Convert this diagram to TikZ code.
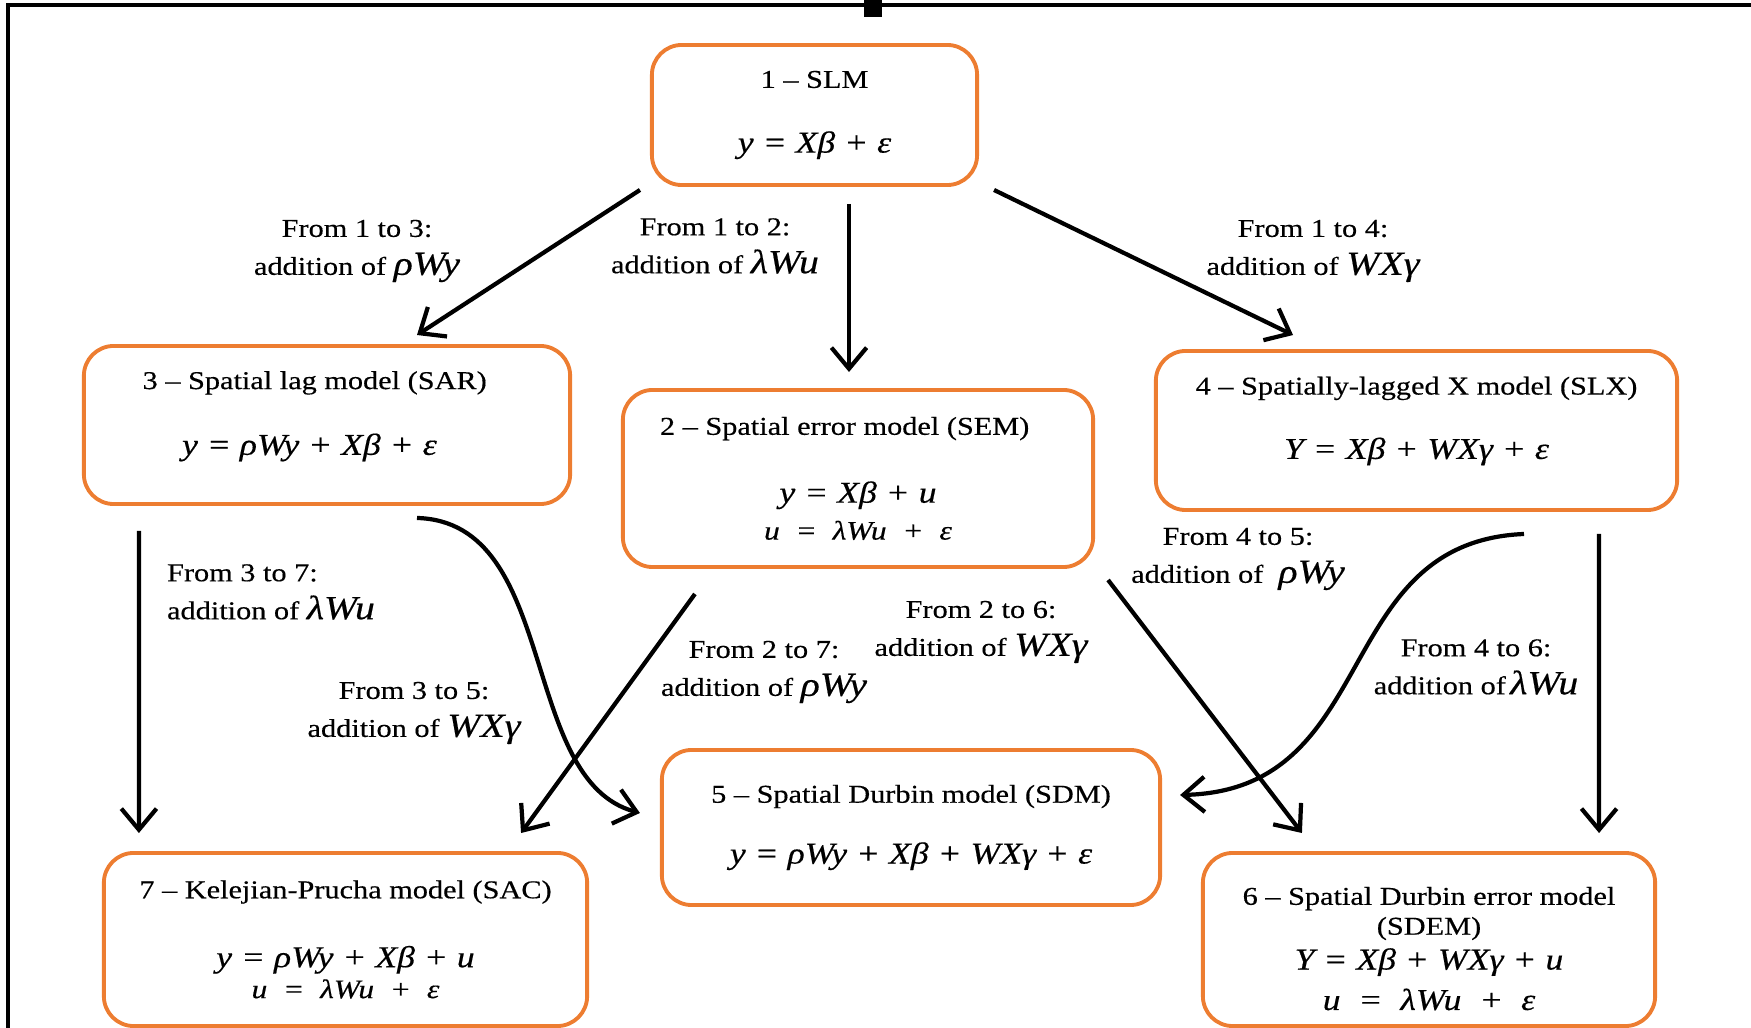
\documentclass[tikz,border=0pt]{standalone}
\usepackage{amsmath}
\usepackage{fontspec}
\setmainfont[FakeStretch=1.18,FakeBold=0.4]{Liberation Serif}
\usetikzlibrary{arrows.meta}
\definecolor{boxorange}{RGB}{237,125,49}
\newcommand*{\eqn}[1]{{\fontsize{8.6}{9}\selectfont\itshape #1}}
\newcommand*{\eqs}[1]{{\fontsize{7.6}{9}\selectfont\itshape #1}}
\newcommand*{\lbm}[1]{{\fontsize{9.6}{9}\selectfont\itshape #1}}
\newcommand*{\lift}[1]{\rule[-#1]{0pt}{#1}}
\newcommand*{\sink}[1]{\rule{0pt}{#1}}
\newcommand*{\boxfont}{\fontsize{7.3}{9}\selectfont\lineskiplimit-20pt\relax}
\newcommand*{\lblfont}{\fontsize{7.3}{10.8}\selectfont\lineskiplimit-20pt\relax}

\tikzset{
  model/.style={draw=boxorange, line width=1.1pt, rounded corners=8.5pt, inner sep=0pt,
    align=center, font=\boxfont},
  lbl/.style={align=center, inner sep=0pt, font=\lblfont},
}

\begin{document}
\begin{tikzpicture}[x=0.01cm,y=-0.01cm,>={Straight Barb[length=6pt,width=10pt]},line width=1.2pt]
    \useasboundingbox (0,0) rectangle (1751,1028);
    % frame of the screenshot
    \draw[line width=1.1pt] (8,1028)--(8,5)--(1751,5);
    \fill (864,0) rectangle (882,17);

    % models
    \node[model,minimum width=3.25cm,minimum height=1.40cm] (slm) at (814.5,115)
        {1 -- SLM\\[9.4pt]\eqn{y = Xβ + ε}};
    \node[model,minimum width=4.86cm,minimum height=1.58cm] (sar) at (327,425)
        {3 -- Spatial lag model (SAR)\hspace*{7pt}\\[9.7pt]\eqn{y = ρWy + Xβ + ε}\hspace*{10pt}\lift{6.8pt}};
    \node[model,minimum width=4.70cm,minimum height=1.77cm] (sem) at (858,478.5)
        {2 -- Spatial error model (SEM)\hspace*{7.6pt}\\[10.3pt]\eqn{y = Xβ + u}\\[1.5pt]\eqs{u \ = \ λWu \ + \ ε}};
    \node[model,minimum width=5.21cm,minimum height=1.59cm] (slx) at (1416.5,430.5)
        {4 -- Spatially-lagged X model (SLX)\\[9.3pt]\eqn{Y = Xβ + WXγ + ε}\lift{7.2pt}};
    \node[model,minimum width=4.98cm,minimum height=1.55cm] (sdm) at (911,827.5)
        {5 -- Spatial Durbin model (SDM)\\[8.3pt]\eqn{y = ρWy + Xβ + WXγ + ε}};
    \node[model,minimum width=4.83cm,minimum height=1.73cm] (sac) at (345.5,939.5)
        {7 -- Kelejian-Prucha model (SAC)\\[10.6pt]\eqn{y = ρWy + Xβ + u}\\[-0.2pt]\eqs{u \ = \ λWu \ + \ ε}};
    \node[model,minimum width=4.52cm,minimum height=1.73cm] (sdem) at (1429,939.5)
        {\sink{10.3pt}6 -- Spatial Durbin error model\\[-0.5pt](SDEM)\\[0.9pt]\eqn{Y = Xβ + WXγ + u}\\[2.5pt]\eqn{u \ = \ λWu \ + \ ε}};

    % steps between models
    \draw[->] ([shift={(-10,3)}]slm.south west)--([shift={(90,-9)}]sar.north);
    \draw[->] ([shift={(34.5,17)}]slm.south)--([shift={(-9,-16)}]sem.north);
    \draw[->] ([shift={(15,3)}]slm.south east)--([shift={(-123.5,-14)}]slx.north);
    \draw[->] ([shift={(57,25)}]sar.south west)--([shift={(37,-18)}]sac.north west);
    \draw[->] ([shift={(90,12)}]sar.south) .. controls +(143,4) and +(-122,-33) .. ([shift={(-20,-14.5)}]sdm.west);
    \draw[->] ([shift={(74,25)}]sem.south west)--([shift={(-68,-18)}]sac.north east);
    \draw[->] ([shift={(13,11)}]sem.south east)--([shift={(101,-18)}]sdem.north west);
    \draw[->] ([shift={(107.5,22)}]slx.south) .. controls +(-194,8) and +(202,-5) .. ([shift={(18,-32.5)}]sdm.east);
    \draw[->] ([shift={(-80,22)}]slx.south east)--([shift={(-58,-18)}]sdem.north east);

    % what is added at each step
    \node[lbl] (l13) at (357,251) {From 1 to 3:\\addition of \lbm{ρWy}};
    \node[lbl] (l12) at (715,246) {From 1 to 2:\\addition of \lbm{λWu}};
    \node[lbl] (l14) at (1313,251) {From 1 to 4:\\addition of \lbm{WXγ}};
    \node[lbl,align=left,anchor=west] (l37) at (165,592) {From 3 to 7:\\addition of \lbm{λWu}};
    \node[lbl] (l35) at (414,713) {From 3 to 5:\\addition of \lbm{WXγ}};
    \node[lbl] (l27) at (764,672) {From 2 to 7:\\addition of \lbm{ρWy}};
    \node[lbl] (l26) at (981,632) {From 2 to 6:\\addition of \lbm{WXγ}};
    \node[lbl] (l45) at (1238,559) {From 4 to 5:\\addition of \ \lbm{ρWy}};
    \node[lbl] (l46) at (1476,667) {From 4 to 6:\\addition of\,\lbm{λWu}};
\end{tikzpicture}
\end{document}
